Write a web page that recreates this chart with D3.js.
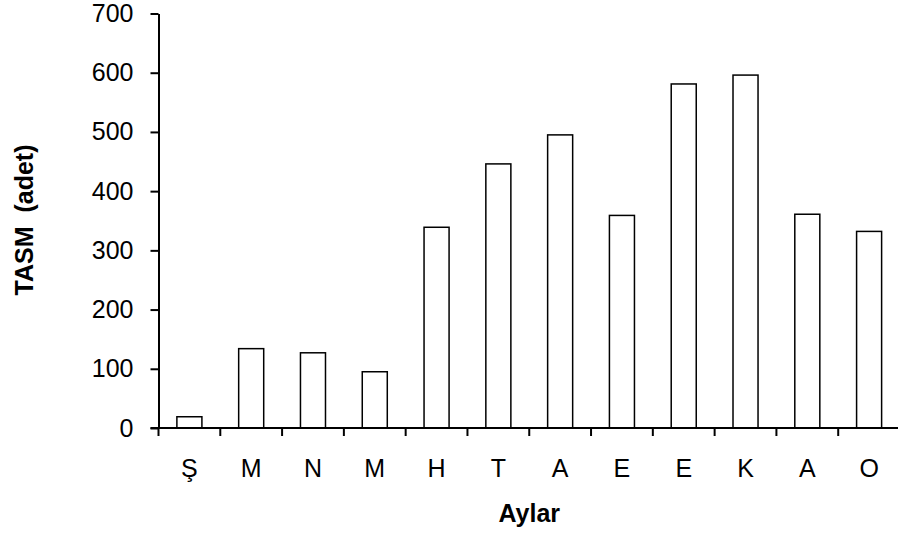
<!DOCTYPE html>
<html>
<head>
<meta charset="utf-8">
<script src="https://cdn.jsdelivr.net/npm/d3@7"></script>
<style>
  body { margin: 0; background: #fff; }
  svg { display: block; font-family: "Liberation Sans", Arial, sans-serif; }
</style>
</head>
<body>
<div id="chart"></div>
<script>
// month initials and TASM counts
const months = ["Ş", "M", "N", "M", "H", "T", "A", "E", "E", "K", "A", "O"];
const counts = [19, 134, 127, 95, 339, 446, 495, 359, 581, 596, 361, 332];
const yTicks = [0, 100, 200, 300, 400, 500, 600, 700];

const width = 898, height = 539;
const margin = { top: 13.5, right: -2, bottom: 111, left: 158.5 };
const fontSize = 25;

const svg = d3.select("#chart").append("svg")
  .attr("width", width)
  .attr("height", height);

const g = svg.append("g")
  .attr("transform", "translate(" + margin.left + "," + margin.top + ")");

const w = width - margin.left - margin.right;
const h = height - margin.top - margin.bottom;

const idx = months.map((d, i) => i);
const x = d3.scaleBand().domain(idx).range([0, w]).paddingInner(0.595).paddingOuter(0.2975);
const y = d3.scaleLinear().domain([0, 700]).range([h, 0]);

// bars
g.selectAll("rect.bar")
  .data(counts)
  .join("rect")
  .attr("class", "bar")
  .attr("x", (d, i) => x(i))
  .attr("y", d => y(d))
  .attr("width", x.bandwidth())
  .attr("height", d => h - y(d))
  .attr("fill", "#fff")
  .attr("stroke", "#000")
  .attr("stroke-width", 1.5);

// y axis
const yAxis = g.append("g")
  .call(d3.axisLeft(y).tickValues(yTicks).tickSize(8).tickPadding(17).tickSizeOuter(0));
yAxis.attr("font-size", fontSize).attr("font-family", null);
yAxis.select(".domain").attr("stroke-width", 2);
yAxis.selectAll(".tick line").attr("stroke-width", 2);
yAxis.selectAll("text").attr("fill", "#000");

// x axis: ticks at category boundaries
const xg = g.append("g").attr("transform", "translate(0," + h + ")");
xg.append("line")
  .attr("x1", -8).attr("x2", w + 10)
  .attr("stroke", "#000").attr("stroke-width", 2);
const step = x.step();
xg.selectAll("line.tk")
  .data(d3.range(months.length + 1))
  .join("line")
  .attr("class", "tk")
  .attr("x1", i => i * step).attr("x2", i => i * step)
  .attr("y1", 0).attr("y2", 8)
  .attr("stroke", "#000").attr("stroke-width", 2);
xg.selectAll("text")
  .data(months)
  .join("text")
  .attr("x", (d, i) => x(i) + x.bandwidth() / 2)
  .attr("y", 49)
  .attr("text-anchor", "middle")
  .attr("font-size", fontSize)
  .text(d => d);

// axis titles
svg.append("text")
  .attr("x", margin.left + w / 2)
  .attr("y", 522)
  .attr("text-anchor", "middle")
  .attr("font-size", fontSize)
  .attr("font-weight", "bold")
  .text("Aylar");

svg.append("text")
  .attr("transform", "translate(33," + 220 + ") rotate(-90)")
  .attr("text-anchor", "middle")
  .attr("font-size", fontSize)
  .attr("font-weight", "bold")
  .style("white-space", "pre")
  .text("TASM  (adet)");
</script>
</body>
</html>
